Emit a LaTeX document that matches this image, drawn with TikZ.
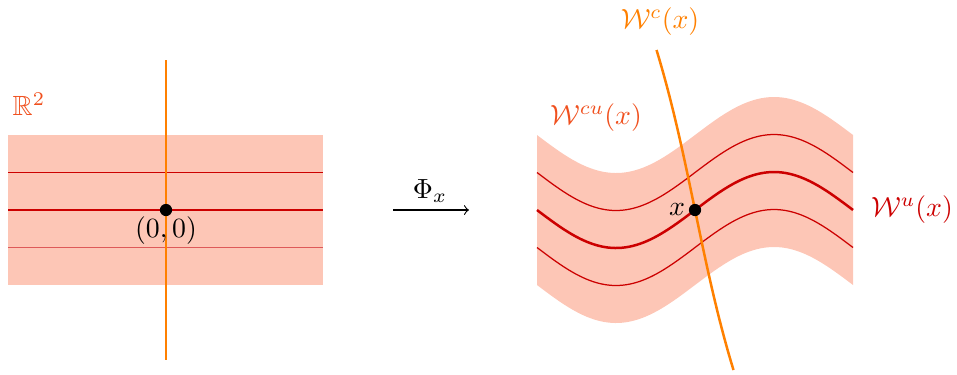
\documentclass[tikz,border=0pt]{standalone}
\usepackage{amssymb}
\definecolor{bandfill}{RGB}{253,198,182}
\definecolor{leafred}{RGB}{204,0,0}
\definecolor{centorange}{RGB}{255,128,0}
\definecolor{cuorange}{RGB}{240,80,30}
\begin{document}
\begin{tikzpicture}[x=0.36pt,y=-0.36pt,
  dot/.style={circle,fill=black,inner sep=0pt,minimum size=4.4pt},
  thinleaf/.style={leafred,line width=0.45pt},
  mainleaf/.style={leafred,line width=0.9pt},
  central/.style={centorange,line width=0.9pt},
  lbl/.style={inner sep=1pt}]
\useasboundingbox (0,0) rectangle (957,374);
% ---- left picture ----
\fill[bandfill] (8,135) rectangle (323,285);
\draw[thinleaf] (8,172.5) -- (323,172.5);
\draw[thinleaf,leafred!65] (8,247.5) -- (323,247.5);
\draw[mainleaf] (8,210) -- (323,210);
\coordinate (ltop) at (166,60);
\coordinate (lbot) at (166,360);
\draw[central] (ltop) -- (lbot);
\node[dot] (o) at (166,210) {};
\node[lbl] (olab) at (166,231) {$(0,0)$};
\node[lbl,text=cuorange] (R2) at (29,104) {$\mathbb{R}^2$};
% ---- arrow ----
\coordinate (as) at (393,210);
\coordinate (ae) at (469,210);
\draw[->] (as) -- (ae);
\node[lbl,anchor=base] (phi) at (430,198) {$\Phi_x$};
% ---- right picture ----
\fill[bandfill] plot[domain=537:853,samples=90] (\x,{135+38*sin((\x-537)*1.13924)})
  -- plot[domain=853:537,samples=90] (\x,{285+38*sin((\x-537)*1.13924)}) -- cycle;
\draw[thinleaf] plot[domain=537:853,samples=90] (\x,{172.5+38*sin((\x-537)*1.13924)});
\draw[thinleaf] plot[domain=537:853,samples=90] (\x,{247.5+38*sin((\x-537)*1.13924)});
\draw[mainleaf] plot[domain=537:853,samples=90] (\x,{210+38*sin((\x-537)*1.13924)});
\draw[central] plot[domain=-160:160,samples=60] ({695+0.208*\x+1.27*(\x/100)^3},{210+\x});
\node[dot] (xp) at (695,210) {};
\node[lbl,anchor=east] (xlab) at (xp.west) {$x$};
\node[lbl,text=centorange] (Wc) at (660,22) {$\mathcal{W}^c(x)$};
\node[lbl,text=cuorange] (Wcu) at (596,118) {$\mathcal{W}^{cu}(x)$};
\node[lbl,text=leafred] (Wu) at (912,210) {$\mathcal{W}^u(x)$};
\end{tikzpicture}
\end{document}
